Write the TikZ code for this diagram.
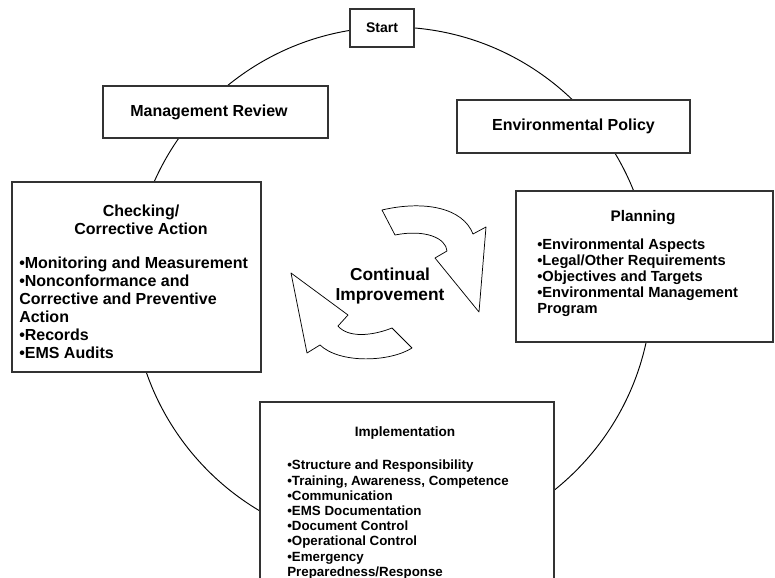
\documentclass[tikz,border=0pt]{standalone}
\usepackage{fontspec}
\setmainfont{Liberation Sans}

\tikzset{
  panel/.style={draw=black!80, line width=1.1pt, fill=white, inner sep=0pt},
  heading/.style={align=center, inner sep=0pt},
  items/.style={align=left, anchor=north west, inner sep=0pt},
  cycleline/.style={line width=0.7pt},
  swirl/.style={line width=0.55pt, fill=white, line join=round},
}

\begin{document}
\begin{tikzpicture}[x=0.75pt, y=-0.75pt]
    \clip (0,0) rectangle (775,578);
    \fill[white] (0,0) rectangle (775,578);
    % the loop behind the boxes
    \draw[cycleline] (392,287) circle (195pt);
    % boxes on the loop
    \node[panel, minimum width=48pt, minimum height=28.5pt,
      font=\bfseries\fontsize{10.5}{12}\selectfont] (start) at (382,28) {Start};
    \node[panel, minimum width=168.75pt, minimum height=39pt] (review) at (215.5,112) {};
    \node[font=\bfseries\fontsize{12}{14}\selectfont] (reviewtext) at (209,112) {Management Review};
    \node[panel, minimum width=174.75pt, minimum height=39.75pt,
      font=\bfseries\fontsize{12}{14}\selectfont] (policy) at (573.5,126.5) {Environmental Policy};
    \node[panel, minimum width=186.75pt, minimum height=142.5pt] (check) at (136.5,277) {};
    \node[panel, minimum width=192.75pt, minimum height=113.25pt] (plan) at (644.5,266.5) {};
    \node[panel, minimum width=220.5pt, minimum height=148.5pt] (impl) at (407,501) {};
    % texts in the boxes
    \node[heading, font=\bfseries\fontsize{12}{13.5}\selectfont] (checkhead) at (141,220)
      {Checking/\\Corrective Action};
    \node[items, font=\bfseries\fontsize{12}{13.4}\selectfont] (checklist) at (19,257)
      {•Monitoring and Measurement\\•Nonconformance and\\Corrective and Preventive\\Action\\•Records\\•EMS Audits};
    \node[heading, font=\bfseries\fontsize{11.5}{13}\selectfont] (planhead) at (643,218) {Planning};
    \node[items, font=\bfseries\fontsize{11}{12}\selectfont] (planlist) at (537,239)
      {•Environmental Aspects\\•Legal/Other Requirements\\•Objectives and Targets\\•Environmental Management\\Program};
    \node[heading, font=\bfseries\fontsize{10.2}{12}\selectfont] (implhead) at (405,433) {Implementation};
    \node[items, font=\bfseries\fontsize{10}{11.4}\selectfont] (impllist) at (287,460)
      {•Structure and Responsibility\\•Training, Awareness, Competence\\•Communication\\•EMS Documentation\\•Document Control\\•Operational Control\\•Emergency\\Preparedness/Response};
    % the two turning arrows
    \draw[swirl] (395,235) -- (382,210) .. controls (425,200) and (463,208) .. (473,234)
      -- (486,227) -- (479,312) -- (435,258) -- (447,251)
      .. controls (446,238) and (425,229) .. cycle;
    \draw[swirl] (291,273) -- (348,315) -- (338,326) .. controls (348,338) and (372,336) .. (392,328)
      -- (412,348) .. controls (390,362) and (340,364) .. (320,345) -- (307,353) -- cycle;
    \node[heading, font=\bfseries\fontsize{13}{15}\selectfont] (improve) at (390,286)
      {Continual\\Improvement};
\end{tikzpicture}
\end{document}
